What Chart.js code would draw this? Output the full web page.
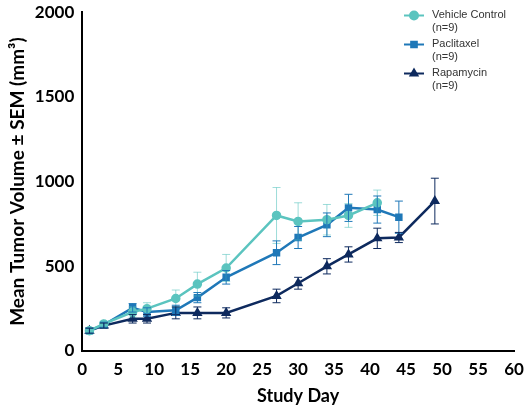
<!DOCTYPE html>
<html><head><meta charset="utf-8">
<script src="https://cdn.jsdelivr.net/npm/chart.js@4"></script>
<style>
body{margin:0;background:#fff;font-family:Lato,sans-serif}
#w{position:relative;width:530px;height:413px}
#lg{position:absolute;left:404px;top:8px;font-family:"Liberation Sans",Arial,sans-serif;font-size:11px;color:#333;line-height:13px}
.it{display:flex;align-items:flex-start;margin-bottom:3px}
.mk{width:20px;height:13px;margin-right:8px;position:relative}
</style></head><body>
<div id="w"><canvas id="c" width="530" height="413"></canvas>
<div id="lg"></div></div>
<script>
const vehDays=[1,3,7,9,13,16,20,27,30,34,37,41];
const vehVals=[120,160,230,250,310,395,490,800,765,775,800,875];
const vehErr=[15,15,30,35,50,70,80,165,110,90,70,75];
const pacDays=[1,3,7,9,13,16,20,27,30,34,37,41,44];
const pacVals=[120,155,255,230,240,315,435,580,670,745,845,835,790];
const pacErr=[15,15,25,25,30,30,40,70,65,70,80,80,95];
const rapDays=[1,3,7,9,13,16,20,27,30,34,37,41,44,49];
const rapVals=[120,150,190,190,225,225,225,325,400,500,570,665,670,885];
const rapErr=[15,15,25,25,35,35,30,40,35,45,45,60,30,135];
const xTicks=[0,5,10,15,20,25,30,35,40,45,50,55,60];
const yTicks=[0,500,1000,1500,2000];
const names=['Vehicle Control','Paclitaxel','Rapamycin'];
const colors=['#5bc4bf','#1f78b8','#0e2a5e'];
const shapes=['circle','rect','triangle'];
const days=[vehDays,pacDays,rapDays],vals=[vehVals,pacVals,rapVals],errs=[vehErr,pacErr,rapErr];
const ds=names.map((n,i)=>({label:n,data:days[i].map((d,j)=>({x:d,y:vals[i][j]})),err:errs[i],
 borderColor:colors[i],backgroundColor:colors[i],borderWidth:2.5,pointStyle:shapes[i],pointRadius:3.5,tension:0}));
const errPlugin={id:'err',afterDatasetsDraw(ch){const c=ch.ctx,x=ch.scales.x,y=ch.scales.y;
 ch.data.datasets.forEach((d,i)=>{c.save();c.strokeStyle=d.borderColor;c.globalAlpha=i==0?0.6:1;c.lineWidth=1;
 d.data.forEach((p,j)=>{const px=x.getPixelForValue(p.x),a=y.getPixelForValue(p.y+d.err[j]),b=y.getPixelForValue(p.y-d.err[j]);
 c.beginPath();c.moveTo(px,a);c.lineTo(px,b);c.moveTo(px-4,a);c.lineTo(px+4,a);c.moveTo(px-4,b);c.lineTo(px+4,b);c.stroke();});c.restore();});}};
new Chart(document.getElementById('c'),{type:'line',data:{datasets:ds},plugins:[errPlugin],
options:{responsive:false,animation:false,layout:{padding:{top:10,right:16,left:2,bottom:2}},
plugins:{legend:{display:false},tooltip:{enabled:false}},
scales:{x:{type:'linear',min:0,max:60,afterBuildTicks(s){s.ticks=xTicks.map(v=>({value:v}))},
 grid:{display:false,drawTicks:true,tickLength:6,tickColor:'#000'},border:{color:'#000',width:2},
 ticks:{color:'#000',font:{family:'Lato',size:17,weight:'bold'},maxRotation:0,padding:2,callback:v=>String(v)},
 title:{display:true,text:'Study Day',color:'#000',font:{family:'Lato',size:18,weight:'bold'}}},
y:{min:0,max:2000,afterBuildTicks(s){s.ticks=yTicks.map(v=>({value:v}))},
 grid:{display:false,tickLength:6,tickColor:'#000'},border:{color:'#000',width:2},
 ticks:{color:'#000',font:{family:'Lato',size:17,weight:'bold'},padding:2,callback:v=>String(v)},
 title:{display:true,text:'Mean Tumor Volume ± SEM (mm³)',color:'#000',font:{family:'Lato',size:19,weight:'bold'}}}}}});
const lg=document.getElementById('lg');
names.forEach((n,i)=>{const d=document.createElement('div');d.className='it';
 const m=document.createElement('canvas');m.width=20;m.height=13;m.className='mk';m.style.marginTop='1px';
 const c=m.getContext('2d');c.strokeStyle=colors[i];c.fillStyle=colors[i];c.lineWidth=2;c.beginPath();c.moveTo(0,6.5);c.lineTo(20,6.5);c.stroke();
 Chart.helpers.drawPoint(c,{pointStyle:shapes[i],radius:4,borderWidth:1},10,6.5);c.fill();
 const t=document.createElement('div');t.innerHTML=n+'<br>(n=9)';d.appendChild(m);d.appendChild(t);lg.appendChild(d);});
</script></body></html>
